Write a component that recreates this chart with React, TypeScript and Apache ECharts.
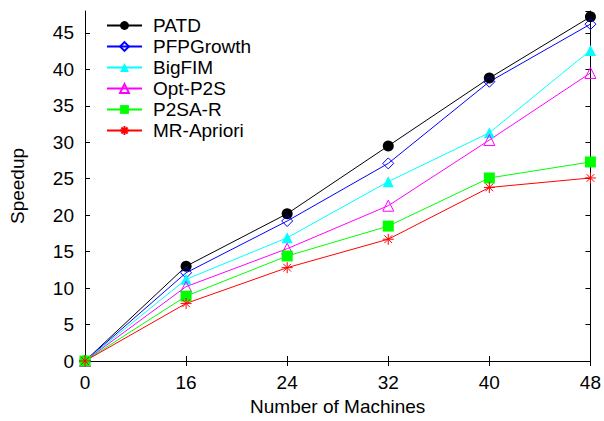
import React, { useEffect, useRef } from "react";
import * as echarts from "echarts";

const machines = ["0", "16", "24", "32", "40", "48"];
const patd = [0, 13.0, 20.2, 29.5, 38.8, 47.2];
const pfpGrowth = [0, 12.1, 19.2, 27.1, 38.3, 46.2];
const bigFim = [0, 11.2, 16.9, 24.6, 31.3, 42.6];
const optP2S = [0, 10.2, 15.4, 21.3, 30.3, 39.5];
const p2saR = [0, 8.9, 14.4, 18.5, 25.1, 27.3];
const mrApriori = [0, 7.9, 12.8, 16.7, 23.8, 25.1];

const FONT = "Liberation Sans, Arial, Helvetica, sans-serif";
const STAR =
  "path://M5,0 L5,10 M0,5 L10,5 M1.5,1.5 L8.5,8.5 M1.5,8.5 L8.5,1.5";

export default function App() {
  const ref = useRef<HTMLDivElement>(null);
  useEffect(() => {
    document.body.style.margin = "0";
    if (!ref.current) return;
    const chart = echarts.init(ref.current, undefined, { renderer: "svg" });
    const mk = (
      name: string,
      data: number[],
      color: string,
      symbol: string,
      size: number,
      hollow: boolean
    ) => ({
      name,
      type: "line",
      data,
      symbol,
      symbolSize: size,
      showAllSymbol: true,
      lineStyle: { color, width: 1 },
      itemStyle: hollow
        ? { color: "rgba(0,0,0,0)", borderColor: color, borderWidth: 1 }
        : { color, borderColor: color, borderWidth: 0 },
      emphasis: { disabled: true },
    });
    const tickStyle = { lineStyle: { color: "#000", width: 1 } };
    chart.setOption({
      animation: false,
      backgroundColor: "#fff",
      textStyle: { fontFamily: FONT },
      grid: { left: 84, right: 10, top: 11, bottom: 56 },
      legend: {
        orient: "vertical",
        left: 106,
        top: 16,
        padding: 0,
        itemWidth: 35,
        itemHeight: 11,
        itemGap: 2,
        textStyle: {
          fontFamily: FONT,
          fontSize: 19,
          color: "#000",
          lineHeight: 17,
          padding: [0, 0, 0, 6],
        },
        data: ["PATD", "PFPGrowth", "BigFIM", "Opt-P2S", "P2SA-R", "MR-Apriori"],
      },
      xAxis: [
        {
          type: "category",
          data: machines,
          boundaryGap: false,
          position: "bottom",
          name: "Number of Machines",
          nameLocation: "middle",
          nameGap: 36,
          nameTextStyle: { fontFamily: FONT, fontSize: 19, color: "#000" },
          axisLine: { lineStyle: { color: "#000", width: 1 } },
          axisTick: { inside: true, length: 5, alignWithLabel: true, ...tickStyle },
          axisLabel: { fontFamily: FONT, fontSize: 19, color: "#000", margin: 12 },
          splitLine: { show: false },
        },
        {
          type: "category",
          data: machines,
          boundaryGap: false,
          position: "top",
          axisLine: { lineStyle: { color: "#000", width: 1 } },
          axisTick: { inside: true, length: 5, alignWithLabel: true, ...tickStyle },
          axisLabel: { show: false },
          splitLine: { show: false },
        },
      ],
      yAxis: [
        {
          type: "value",
          min: 0,
          max: 48,
          interval: 5,
          position: "left",
          name: "Speedup",
          nameLocation: "middle",
          nameGap: 58,
          nameTextStyle: { fontFamily: FONT, fontSize: 19, color: "#000" },
          axisLine: { show: true, lineStyle: { color: "#000", width: 1 } },
          axisTick: { show: true, inside: true, length: 5, ...tickStyle },
          axisLabel: {
            fontFamily: FONT,
            fontSize: 19,
            color: "#000",
            margin: 11,
            showMaxLabel: false,
          },
          splitLine: { show: false },
        },
        {
          type: "value",
          min: 0,
          max: 48,
          interval: 5,
          position: "right",
          axisLine: { show: true, lineStyle: { color: "#000", width: 1 } },
          axisTick: { show: true, inside: true, length: 5, ...tickStyle },
          axisLabel: { show: false },
          splitLine: { show: false },
        },
      ],
      series: [
        mk("PATD", patd, "#000000", "circle", 11, false),
        mk("PFPGrowth", pfpGrowth, "#0000ff", "diamond", 11, true),
        mk("BigFIM", bigFim, "#00ffff", "triangle", 11, false),
        mk("Opt-P2S", optP2S, "#ff00ff", "triangle", 11, true),
        mk("P2SA-R", p2saR, "#00ff00", "rect", 11, false),
        mk("MR-Apriori", mrApriori, "#ff0000", STAR, 11, true),
      ],
    });
    return () => chart.dispose();
  }, []);
  return <div ref={ref} style={{ width: 604, height: 421 }} />;
}
